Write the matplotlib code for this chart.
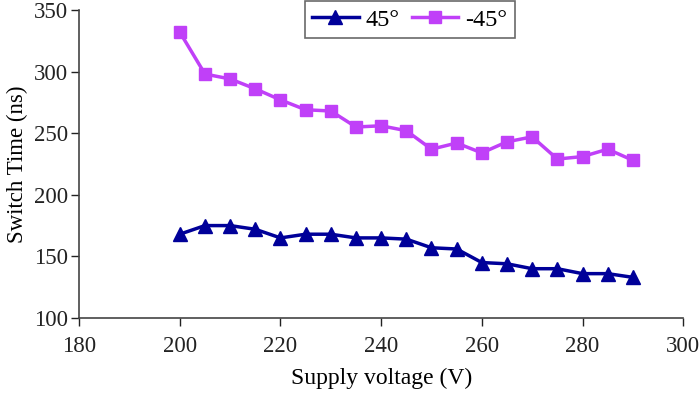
import matplotlib
matplotlib.use("Agg")
import matplotlib.pyplot as plt

voltage = [200, 205, 210, 215, 220, 225, 230, 235, 240, 245,
           250, 255, 260, 265, 270, 275, 280, 285, 290]
pos45 = [168, 175, 175, 172, 165, 168, 168, 165, 165, 164,
         157, 156, 145, 144, 140, 140, 136, 136, 133]
neg45 = [332, 298, 294, 286, 277, 269, 268, 255, 256, 252,
         237, 242, 234, 243, 247, 229, 231, 237, 228]
x_ticks = [180, 200, 220, 240, 260, 280, 300]
y_ticks = [100, 150, 200, 250, 300, 350]

plt.rcParams['font.family'] = ['Liberation Serif', 'DejaVu Serif']

fig = plt.figure(figsize=(7.0, 3.98), dpi=100)
ax = fig.add_axes([0.113, 0.201, 0.863, 0.774])

blue = '#000099'
mag = '#C040F8'
ax.plot(voltage, pos45, color=blue, lw=2.5, marker='^', ms=10,
        markerfacecolor=blue, markeredgecolor=blue, label='45°')
ax.plot(voltage, neg45, color=mag, lw=2.5, marker='s', ms=8.5,
        markerfacecolor=mag, markeredgecolor=mag, label='-45°')

ax.set_xlim(180, 300)
ax.set_ylim(100, 350)
ax.set_xticks(x_ticks)
ax.set_yticks(y_ticks)
ax.tick_params(direction='out', length=6, width=1, labelsize=16.5, colors='#222222')
ax.tick_params(axis='x', pad=7)
ax.tick_params(axis='y', pad=2)
for s in ['top', 'right']:
    ax.spines[s].set_visible(False)
for s in ['left', 'bottom']:
    ax.spines[s].set_color('#444444')
    ax.spines[s].set_linewidth(1.2)

ax.set_xlabel('Supply voltage (V)', fontsize=17, labelpad=8)
ax.set_ylabel('Switch Time (ns)', fontsize=16.5, labelpad=4)

leg = ax.legend(loc='upper left', bbox_to_anchor=(0.374, 1.028), ncol=2,
                fontsize=17.5, frameon=True, fancybox=False, handlelength=1.9,
                columnspacing=0.5, handletextpad=0.3, borderpad=0.3,
                borderaxespad=0)
leg.get_frame().set_edgecolor('#444444')
leg.get_frame().set_linewidth(1.2)

fig.savefig('out.png', dpi=100)
